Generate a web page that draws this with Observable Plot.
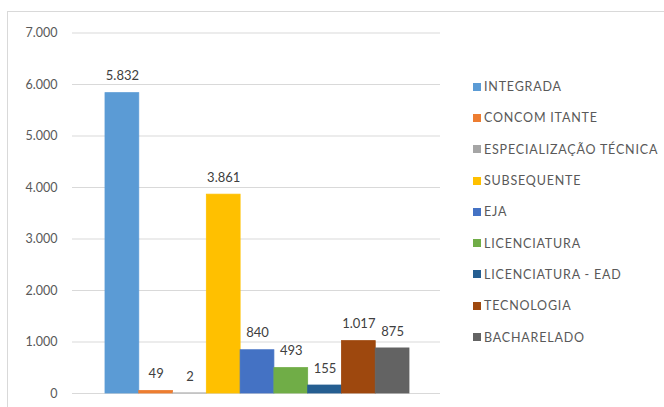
<!DOCTYPE html>
<html><head><meta charset="utf-8">
<script src="https://cdn.jsdelivr.net/npm/d3@7"></script>
<script src="https://cdn.jsdelivr.net/npm/@observablehq/plot@0.6"></script>
<style>
body{margin:0;background:#fff;font-family:Lato,"Open Sans",sans-serif;}
#wrap{position:relative;width:664px;height:407px;overflow:hidden;}
#frame{position:absolute;left:7px;top:11px;width:700px;height:500px;border:1px solid #d9d9d9;box-sizing:border-box;}
#chart{position:absolute;left:0;top:0;}
#legend{position:absolute;left:473px;top:71px;}
.li{display:flex;align-items:center;height:31.3px;font-size:12.5px;letter-spacing:0.8px;color:#595959;white-space:nowrap;}
.sw{width:8px;height:8px;margin-right:3px;}
</style></head>
<body><div id="wrap"><div id="frame"></div><div id="chart"></div><div id="legend"></div></div>
<script>
const categories = ["INTEGRADA","CONCOMITANTE","ESPECIALIZAÇÃO TÉCNICA","SUBSEQUENTE","EJA","LICENCIATURA","LICENCIATURA - EAD","TECNOLOGIA","BACHARELADO"];
const legendLabels = ["INTEGRADA","CONCOM ITANTE","ESPECIALIZAÇÃO TÉCNICA","SUBSEQUENTE","EJA","LICENCIATURA","LICENCIATURA - EAD","TECNOLOGIA","BACHARELADO"];
const values = [5832, 49, 2, 3861, 840, 493, 155, 1017, 875];
const colors = ["#5b9bd5","#ed7d31","#a5a5a5","#ffc000","#4472c4","#70ad47","#255e91","#9e480e","#636363"];
const yTicks = [0,1000,2000,3000,4000,5000,6000,7000];

const data = categories.map((c,i)=>({cat:c, v:values[i]}));
const fmt = d3.formatLocale({decimal:",", thousands:".", grouping:[3]}).format(",");

const plot = Plot.plot({
  width: 664, height: 407,
  marginLeft: 72, marginRight: 224, marginTop: 32.5, marginBottom: 14,
  style: {fontFamily: "Lato, 'Open Sans', sans-serif", background: "transparent"},
  x: {type: "band", domain: categories, padding: 0, round: false, insetLeft: 33, insetRight: 31, axis: null},
  y: {domain: [0, 7000], ticks: yTicks, tickFormat: fmt, label: null},
  color: {domain: categories, range: colors},
  marks: [
    Plot.ruleY(yTicks, {stroke: "#d9d9d9", strokeWidth: 1}),
    Plot.axisY({ticks: yTicks, tickFormat: fmt, tickSize: 0, tickPadding: 15, fontSize: 12.5, fill: "#595959", label: null}),
    Plot.barY(data, {x: "cat", y: "v", fill: "cat", stroke: "cat", strokeWidth: 0.8}),
    Plot.text(data, {x: "cat", y: "v", text: d => fmt(d.v), dy: -17, fontSize: 13, fill: "#404040"})
  ]
});
document.getElementById("chart").appendChild(plot);

const lg = document.getElementById("legend");
legendLabels.forEach((l,i)=>{
  const d = document.createElement("div"); d.className="li";
  d.innerHTML = `<span class="sw" style="background:${colors[i]}"></span><span>${l}</span>`;
  lg.appendChild(d);
});
</script></body></html>
